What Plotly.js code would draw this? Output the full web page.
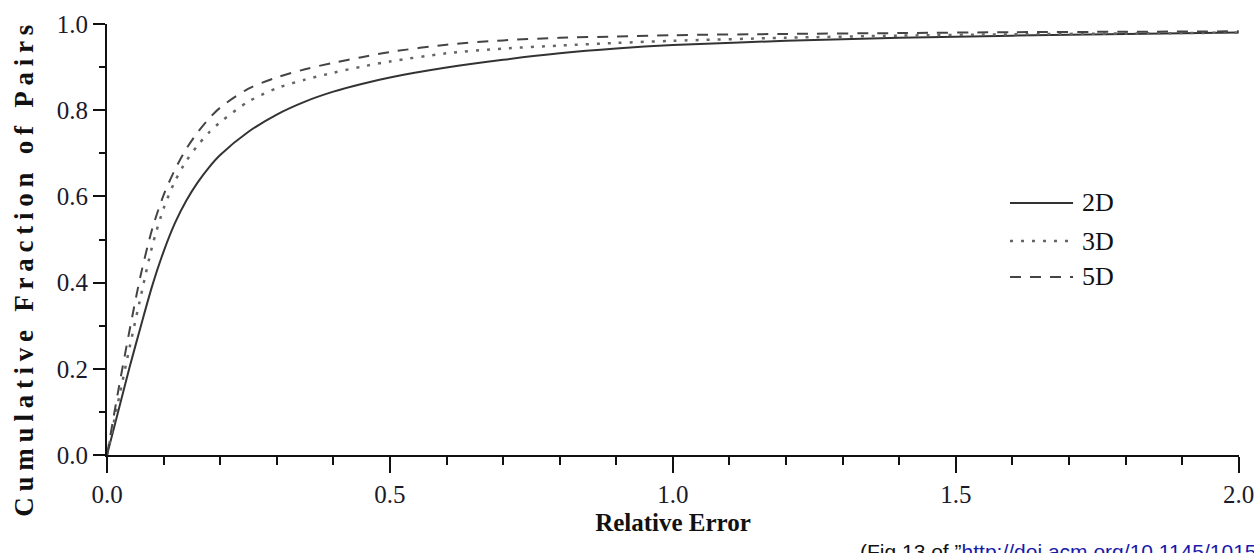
<!DOCTYPE html>
<html>
<head>
<meta charset="utf-8">
<script src="https://cdn.plot.ly/plotly-3.0.1.min.js"></script>
<style>
html,body{margin:0;padding:0;background:#fff;}
#chart{width:1254px;height:553px;}
.annotation[data-index="0"] text{letter-spacing:5.75px;}
</style>
</head>
<body>
<div id="chart"></div>
<script>
var relErr = [0, 0.02, 0.04, 0.06, 0.08, 0.10, 0.12, 0.14, 0.16, 0.18, 0.20, 0.25, 0.30, 0.35, 0.40, 0.45, 0.50, 0.60, 0.70, 0.80, 0.90, 1.00, 1.20, 1.40, 1.60, 1.80, 2.00];
var cdf2D = [0, 0.102, 0.204, 0.300, 0.393, 0.472, 0.538, 0.590, 0.632, 0.667, 0.696, 0.750, 0.790, 0.820, 0.843, 0.861, 0.876, 0.899, 0.917, 0.932, 0.943, 0.951, 0.961, 0.968, 0.973, 0.977, 0.980];
var cdf3D = [0, 0.125, 0.250, 0.370, 0.485, 0.572, 0.635, 0.682, 0.718, 0.748, 0.772, 0.820, 0.851, 0.871, 0.887, 0.901, 0.913, 0.932, 0.943, 0.950, 0.956, 0.961, 0.968, 0.973, 0.976, 0.978, 0.980];
var cdf5D = [0, 0.150, 0.290, 0.420, 0.525, 0.603, 0.662, 0.710, 0.748, 0.780, 0.806, 0.850, 0.876, 0.895, 0.910, 0.923, 0.935, 0.952, 0.962, 0.968, 0.971, 0.974, 0.977, 0.979, 0.981, 0.982, 0.983];
var seriesNames = ["2D", "3D", "5D"];

var serif = "Liberation Serif, Times New Roman, serif";
var lineStyles = [
  {color: "#333333", width: 2, dash: "solid"},
  {color: "#666666", width: 2.5, dash: "3px,8px"},
  {color: "#444444", width: 2, dash: "11px,9px"}
];
var series = [cdf2D, cdf3D, cdf5D];

var traces = series.map(function (s, i) {
  return {x: relErr, y: s, name: seriesNames[i], mode: "lines", showlegend: false,
          line: {color: lineStyles[i].color, width: lineStyles[i].width, dash: lineStyles[i].dash, shape: "spline", smoothing: 0.8}};
});

// legend drawn with long line samples like the reference
var legX0 = 0.7977, legX1 = 0.8534, legTextX = 0.8595;
var legY = [0.5847, 0.4965, 0.4130];
var shapes = [], annotations = [];

annotations.push({
  xref: "paper", yref: "paper", x: -0.0733, y: 0.4336, xanchor: "center", yanchor: "middle",
  textangle: -90, showarrow: false,
  text: "<b>Cumulative Fraction of Pairs</b>",
  font: {family: serif, size: 27, color: "#111"}
});

seriesNames.forEach(function (n, i) {
  shapes.push({type: "line", xref: "paper", yref: "paper", x0: legX0, x1: legX1, y0: legY[i], y1: legY[i],
               line: {color: lineStyles[i].color, width: lineStyles[i].width, dash: lineStyles[i].dash}});
  annotations.push({xref: "paper", yref: "paper", x: legTextX, y: legY[i], xanchor: "left", yanchor: "middle",
                    showarrow: false, text: n, font: {family: serif, size: 26, color: "#111"}});
});

annotations.push({
  xref: "paper", yref: "paper", x: 0.6635, y: -0.225, xanchor: "left", yanchor: "middle",
  showarrow: false, align: "left",
  text: "(Fig 13 of \u201d<span style=\"color:#1a1aa8\">http://doi.acm.org/10.1145/1015467.1015471</span>\u201d)",
  font: {family: "Liberation Sans, Arial, sans-serif", size: 21, color: "#111"}
});

var layout = {
  width: 1254, height: 553,
  margin: {l: 107, r: 15, t: 24, b: 98},
  paper_bgcolor: "#fff", plot_bgcolor: "#fff",
  showlegend: false,
  xaxis: {
    range: [0, 2.0005], showgrid: false, zeroline: false,
    showline: true, linecolor: "#111", linewidth: 2,
    ticks: "outside", ticklen: 16, tickwidth: 2, tickcolor: "#111",
    tick0: 0, dtick: 0.5, tickformat: ".1f", ticklabeloverflow: "allow",
    minor: {ticks: "outside", dtick: 0.1, ticklen: 8, tickwidth: 2, tickcolor: "#111", showgrid: false},
    tickfont: {family: serif, size: 25, color: "#1a1a2a"},
    title: {text: "<b>Relative Error</b>", font: {family: serif, size: 25, color: "#111"}, standoff: 6}
  },
  yaxis: {
    range: [0, 1], showgrid: false, zeroline: false,
    showline: true, linecolor: "#111", linewidth: 2,
    ticks: "outside", ticklen: 12, tickwidth: 2, tickcolor: "#111",
    tick0: 0, dtick: 0.2, tickformat: ".1f",
    minor: {ticks: "outside", dtick: 0.1, ticklen: 6, tickwidth: 2, tickcolor: "#111", showgrid: false},
    tickfont: {family: serif, size: 25, color: "#1a1a2a"}
  },
  shapes: shapes,
  annotations: annotations
};

Plotly.newPlot("chart", traces, layout, {displayModeBar: false, staticPlot: true});
</script>
</body>
</html>
